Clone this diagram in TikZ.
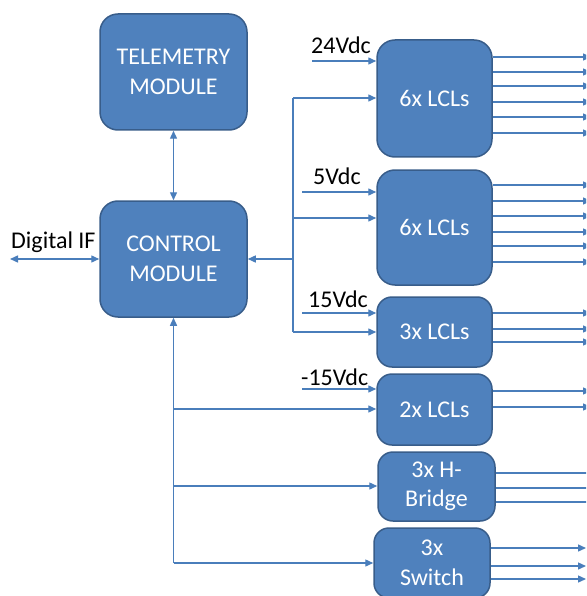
\documentclass[tikz,border=0pt]{standalone}
\usepackage{fontspec}
\setmainfont{Carlito}
\usetikzlibrary{arrows.meta}
\definecolor{boxfill}{HTML}{4F81BD}
\definecolor{boxline}{HTML}{385D8A}
\definecolor{wire}{HTML}{4A7EBB}
\tikzset{
  blk/.style={draw=boxline, line width=1.5pt, fill=boxfill, text=white, rounded corners=#1,
    align=center, inner sep=0pt, font=\fontsize{24}{29.5}\selectfont},
  blk/.default=18pt,
  wline/.style={draw=wire, line width=1.4pt},
  arr/.style={wline, -{Triangle[length=8pt,width=7pt]}},
  darr/.style={wline, {Triangle[length=8pt,width=7pt]}-{Triangle[length=8pt,width=7pt]}},
  lbl/.style={font=\fontsize{24}{29}\selectfont, text=black, inner sep=0pt, anchor=west}
}
\begin{document}
\begin{tikzpicture}[x=1pt,y=-1pt]
\clip (0,0) rectangle (586,596);
\fill[white] (0,0) rectangle (586,596);

% main modules
\node[blk, minimum width=147pt, minimum height=116pt] (tel) at (173.5,72) {TELEMETRY\\MODULE};
\node[blk, minimum width=147pt, minimum height=116pt] (ctrl) at (173.5,259) {CONTROL\\MODULE};

% right blocks
\node[blk, minimum width=115pt, minimum height=117pt] (b1) at (434.5,98.5) {6x LCLs};
\node[blk, minimum width=115pt, minimum height=115pt] (b2) at (434.5,227.5) {6x LCLs};
\node[blk=15pt, minimum width=115pt, minimum height=70pt] (b3) at (434.5,332) {3x LCLs};
\node[blk=15pt, minimum width=115pt, minimum height=71pt] (b4) at (434.5,409.5) {2x LCLs};
\node[blk=15pt, minimum width=117pt, minimum height=69pt] (b5) at (436.5,486.5) {3x H-\\Bridge};
\node[blk=15pt, minimum width=116pt, minimum height=70pt] (b6) at (432,563) {3x\\Switch};

% telemetry <-> control
\draw[darr] (tel.south) -- (ctrl.north);

% digital IF
\coordinate (dif) at (10,259);
\draw[darr] (dif) -- (ctrl.west);
\node[lbl] (diflbl) at (11,242) {Digital IF};

% upper bus
\coordinate (bt) at (293,98);
\coordinate (bm) at (293,218);
\coordinate (bb) at (293,332);
\coordinate (bc) at (293,259);
\draw[wline] (bt) -- (bb);
\draw[arr] (bc) -- (ctrl.east);
\draw[arr] (bt) -- (b1.west |- bt);
\draw[arr] (bm) -- (b2.west |- bm);
\draw[arr] (bb) -- (b3.west |- bb);

% lower bus
\coordinate (lb4) at (173.5,409);
\coordinate (lb5) at (173.5,486);
\coordinate (lb6) at (173.5,563);
\draw[arr] (lb6) -- (ctrl.south);
\draw[arr] (lb4) -- (b4.west |- lb4);
\draw[arr] (lb5) -- (b5.west |- lb5);
\draw[arr] (lb6) -- (b6.west |- lb6);

% supply inputs
\coordinate (v24) at (312,61);
\coordinate (v5) at (302,192);
\coordinate (v15) at (302,313);
\coordinate (vm15) at (302,389);
\draw[arr] (v24) -- (b1.west |- v24);
\draw[arr] (v5) -- (b2.west |- v5);
\draw[arr] (v15) -- (b3.west |- v15);
\draw[arr] (vm15) -- (b4.west |- vm15);
\node[lbl] (l24) at (311,45) {24Vdc};
\node[lbl] (l5) at (313,176) {5Vdc};
\node[lbl] (l15) at (308,299) {15Vdc};
\node[lbl] (lm15) at (301,377) {-15Vdc};

% outputs
\foreach \y [count=\i] in {57,72,86,102,117,133} {
  \coordinate (o1\i) at (591,\y);
  \draw[arr] (b1.east |- o1\i) -- (o1\i);
}
\foreach \y [count=\i] in {185,201,216,232,246,262} {
  \coordinate (o2\i) at (591,\y);
  \draw[arr] (b2.east |- o2\i) -- (o2\i);
}
\foreach \y [count=\i] in {313,329,342} {
  \coordinate (o3\i) at (591,\y);
  \draw[arr] (b3.east |- o3\i) -- (o3\i);
}
\foreach \y [count=\i] in {391,407} {
  \coordinate (o4\i) at (591,\y);
  \draw[arr] (b4.east |- o4\i) -- (o4\i);
}
\foreach \y [count=\i] in {473,488,502} {
  \coordinate (o5\i) at (588,\y);
  \draw[wline] (b5.east |- o5\i) -- (o5\i);
}
\foreach \y [count=\i] in {548,566,579} {
  \coordinate (o6\i) at (586,\y);
  \draw[arr] (b6.east |- o6\i) -- (o6\i);
}
\end{tikzpicture}
\end{document}
